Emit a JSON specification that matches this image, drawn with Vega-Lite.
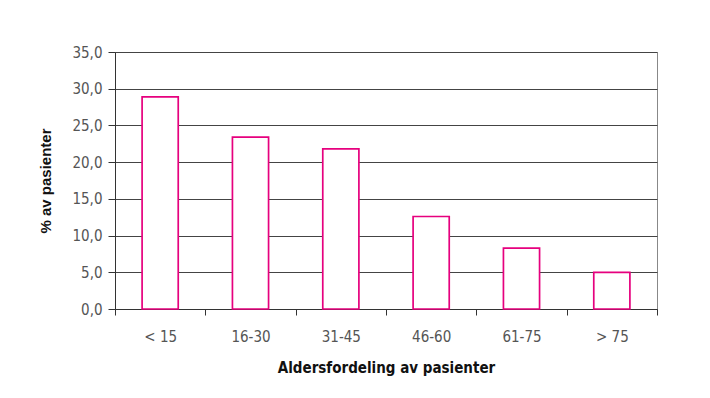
{
  "$schema": "https://vega.github.io/schema/vega-lite/v6.json",
  "width": 542,
  "height": 257,
  "autosize": {"type": "none"},
  "padding": {"left": 115, "top": 52, "right": 53, "bottom": 89},
  "background": "white",
  "data": {
    "values": [
      {"alder": "< 15", "prosent": 28.9},
      {"alder": "16-30", "prosent": 23.4},
      {"alder": "31-45", "prosent": 21.8},
      {"alder": "46-60", "prosent": 12.6},
      {"alder": "61-75", "prosent": 8.3},
      {"alder": "> 75", "prosent": 5.0}
    ]
  },
  "mark": {"type": "bar", "fill": "white", "stroke": "#e6007e", "strokeWidth": 1.7, "width": {"band": 0.4}},
  "encoding": {
    "x": {
      "field": "alder", "type": "nominal", "sort": null,
      "scale": {"paddingInner": 0, "paddingOuter": 0},
      "axis": {
        "title": "Aldersfordeling av pasienter",
        "titleFont": "DejaVu Sans Condensed", "titleFontSize": 15, "titleFontWeight": "bold", "titleColor": "#111",
        "titlePadding": 16,
        "labelAngle": 0, "labelFont": "DejaVu Sans Condensed", "labelFontSize": 15, "labelColor": "#555",
        "labelPadding": 14, "tickBand": "extent", "tickSize": 6, "tickColor": "#333", "domainColor": "#333",
        "grid": false
      }
    },
    "y": {
      "field": "prosent", "type": "quantitative",
      "scale": {"domain": [0, 35], "nice": false},
      "axis": {
        "title": "% av pasienter",
        "titleFont": "Liberation Sans", "titleFontSize": 15, "titleFontWeight": "bold", "titleColor": "#111",
        "titlePadding": 18,
        "values": [0, 5, 10, 15, 20, 25, 30, 35],
        "labelExpr": "replace(format(datum.value, '.1f'), '.', ',')",
        "labelFont": "DejaVu Sans Condensed", "labelFontSize": 15, "labelColor": "#555",
        "labelPadding": 6, "tickSize": 7, "tickColor": "#333", "domainColor": "#333",
        "grid": true, "gridColor": "#444", "gridOpacity": 1
      }
    }
  },
  "config": {"view": {"stroke": "#888"}}
}
